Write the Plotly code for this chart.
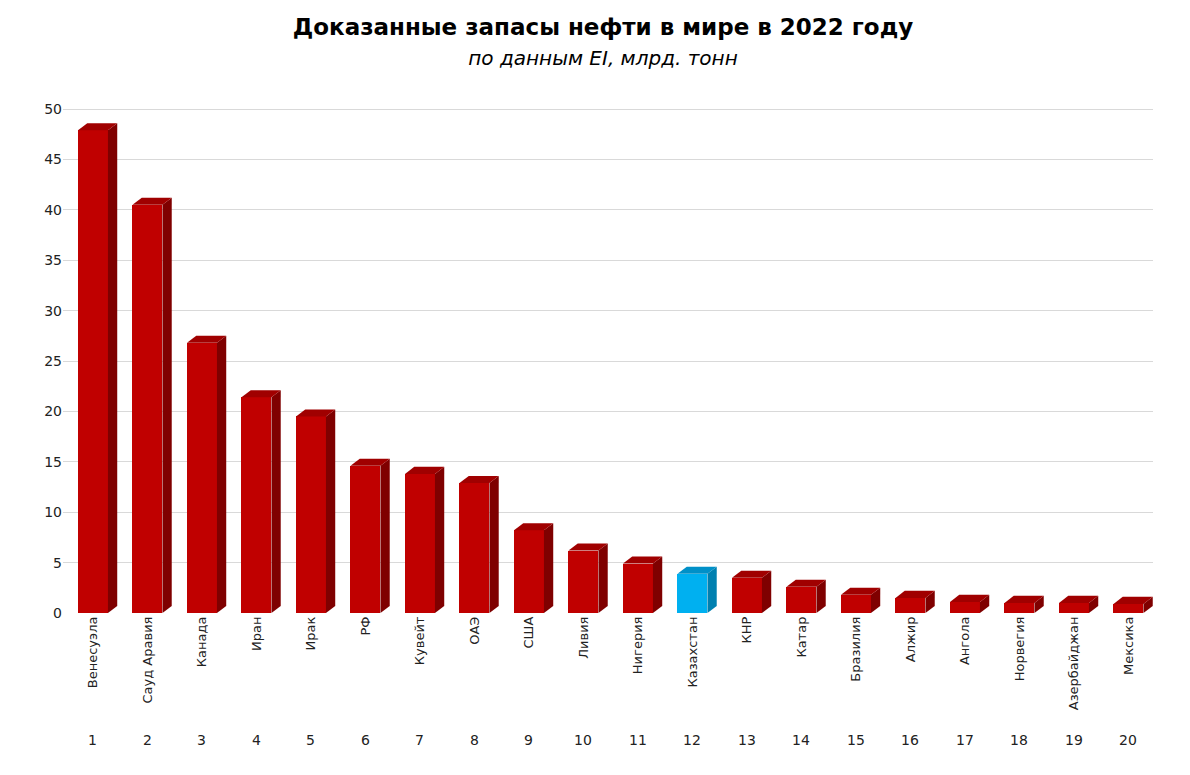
import plotly.graph_objects as go

countries = ["Венесуэла","Сауд Аравия","Канада","Иран","Ирак","РФ","Кувейт","ОАЭ","США","Ливия",
             "Нигерия","Казахстан","КНР","Катар","Бразилия","Алжир","Ангола","Норвегия","Азербайджан","Мексика"]
values = [47.9,40.5,26.8,21.4,19.5,14.6,13.8,12.9,8.2,6.2,4.9,3.9,3.5,2.6,1.8,1.5,1.1,1.0,1.0,0.9]
ranks = list(range(1, 21))
highlight = "Казахстан"

W = 0.55   # bar width in category units
DX = 0.17  # depth offset x
DY = 0.7   # depth offset y

fig = go.Figure()
for i, (c, v) in enumerate(zip(countries, values)):
    side = "#0080B0" if c == highlight else "#7F0000"
    top = "#0090C8" if c == highlight else "#A00000"
    x0, x1 = i - W/2, i + W/2
    fig.add_trace(go.Scatter(x=[x1, x1+DX, x1+DX, x1, x1], y=[0, DY, v+DY, v, 0], fill="toself",
                             fillcolor=side, line=dict(width=0), mode="lines", hoverinfo="skip", showlegend=False))
    fig.add_trace(go.Scatter(x=[x0, x1, x1+DX, x0+DX, x0], y=[v, v, v+DY, v+DY, v], fill="toself",
                             fillcolor=top, line=dict(width=0), mode="lines", hoverinfo="skip", showlegend=False))
fig.add_trace(go.Bar(x=list(range(20)), y=values, width=W,
                     marker=dict(color=["#00B0F0" if c == highlight else "#C00000" for c in countries], line=dict(width=0)),
                     showlegend=False))

for i, r in enumerate(ranks):
    fig.add_annotation(x=i, y=0, xref="x", yref="paper", yshift=-137, text=str(r), showarrow=False,
                       font=dict(size=14, color="#222"))

fig.update_layout(
    width=1190, height=775, plot_bgcolor="white", paper_bgcolor="white",
    margin=dict(l=55, r=45, t=98, b=170),
    font=dict(family="Tahoma, DejaVu Sans, sans-serif", color="#222"),
    title=dict(text="<b>Доказанные запасы нефти в мире в 2022 году</b><br><i><span style='font-size:20px'>по данным EI, млрд. тонн</span></i>",
               x=0.5, y=0.965, yanchor="top", font=dict(size=23, color="black")),
    xaxis=dict(tickmode="array", tickvals=list(range(20)), ticktext=countries, tickangle=-90,
               range=[-0.55, 19.45], showgrid=False, zeroline=False, tickfont=dict(size=13), ticks=""),
    yaxis=dict(range=[0, 50.3], tickvals=list(range(0, 51, 5)), gridcolor="#D9D9D9", zeroline=False,
               tickfont=dict(size=14), showline=False),
    bargap=0,
)
fig.write_html("out.html")
